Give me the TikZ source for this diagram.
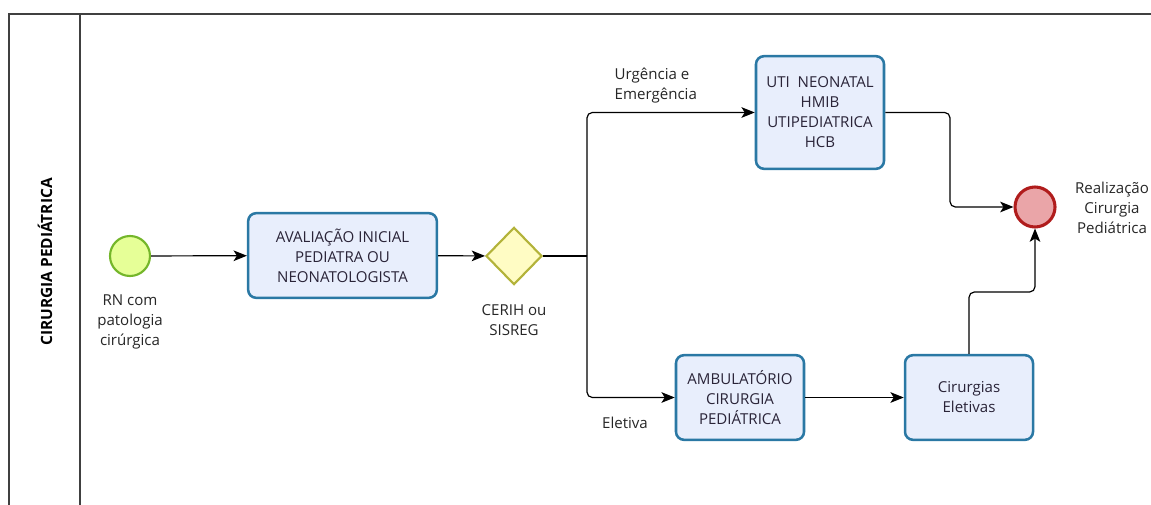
\documentclass[tikz,border=0pt]{standalone}
\usepackage{fontspec}
\setmainfont{Open Sans}
\usetikzlibrary{arrows.meta,shapes.geometric}
\definecolor{taskfill}{HTML}{E8EEFC}
\definecolor{taskline}{HTML}{2A78A4}
\definecolor{startfill}{HTML}{E6FF97}
\definecolor{startline}{HTML}{74B62A}
\definecolor{endfill}{HTML}{EAA5A8}
\definecolor{endline}{HTML}{B01C1C}
\definecolor{gwfill}{HTML}{FFFCC4}
\definecolor{gwline}{HTML}{B3B33A}
\definecolor{txt}{HTML}{2A2438}
\begin{document}
\begin{tikzpicture}[x=0.75pt,y=-0.75pt,
  every node/.style={font=\fontsize{11.3pt}{15pt}\selectfont, text=txt},
  task/.style={draw=taskline, fill=taskfill, line width=1.9pt, rounded corners=6pt, minimum width=94.5pt, align=center, inner sep=0pt},
  lbl/.style={align=center, text=black!85},
  conn/.style={line width=0.9pt, -{Stealth[length=10pt,width=8pt,inset=2.5pt]}, rounded corners=4pt}]
\useasboundingbox (0,0) rectangle (1151,505);
% pool
\draw[line width=0.9pt, black!75] (9,505) -- (9,14) -- (1151,14);
\draw[line width=0.9pt, black!75] (80,14) -- (80,505);
\node[rotate=90, font=\bfseries\fontsize{11.6pt}{14pt}\selectfont, text=black] (lane) at (45,262) {CIRURGIA PEDIÁTRICA};
% nodes
\node[circle, draw=startline, fill=startfill, line width=1.6pt, minimum size=30pt, inner sep=0pt] (start) at (130,256) {};
\node[lbl] (startlbl) at (130,322) {RN com\\patologia\\cirúrgica};
\node[task, minimum width=141.5pt, minimum height=63.5pt] (aval) at (342.5,255.5) {AVALIAÇÃO INICIAL\\PEDIATRA OU\\NEONATOLOGISTA};
\node[diamond, draw=gwline, fill=gwfill, line width=1.6pt, minimum width=42pt, minimum height=43pt, inner sep=0pt] (gw) at (514,256) {};
\node[lbl] (gwlbl) at (514,320) {CERIH ou\\SISREG};
\node[task, minimum width=96pt, minimum height=84.5pt] (uti) at (820,112.5) {UTI\ \ NEONATAL\\HMIB\\UTIPEDIATRICA\\HCB};
\node[task, minimum width=96pt, minimum height=63.5pt] (amb) at (740,397.5) {AMBULATÓRIO\\CIRURGIA\\PEDIÁTRICA};
\node[task, minimum width=96pt, minimum height=63.5pt] (cir) at (969,397.5) {Cirurgias\\Eletivas};
\node[circle, draw=endline, fill=endfill, line width=2.3pt, minimum size=30pt, inner sep=0pt] (end) at (1035,207) {};
\node[lbl] (endlbl) at (1112,208) {Realização\\Cirurgia\\Pediátrica};
\node[lbl, align=left, anchor=west] (urg) at (610,86) {Urgência e\\Emergência};
\node[lbl] (elet) at (625,423) {Eletiva};
% connectors
\coordinate (split) at (587,256);
\draw[conn] (start) -- (aval);
\draw[conn] (aval) -- (gw);
\draw[line width=0.9pt] (gw.east) -- (split);
\draw[conn] (split) |- (uti.west);
\draw[conn] (split) |- (amb.west);
\draw[conn] (amb) -- (cir);
\draw[conn] (uti.east) -| (950,160) |- (end.west);
\draw[conn] (cir.north) |- (1000,292) -| (end.south);
\end{tikzpicture}
\end{document}
